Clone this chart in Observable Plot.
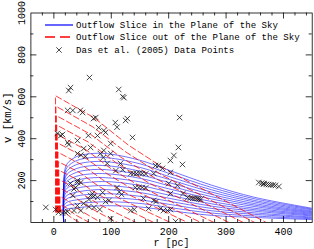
<!DOCTYPE html>
<html><head><meta charset="utf-8">
<script src="https://cdn.jsdelivr.net/npm/d3@7"></script>
<script src="https://cdn.jsdelivr.net/npm/@observablehq/plot@0.6"></script>
<style>
body{margin:0;background:#fff}
#wrap{position:relative;width:314px;height:249px;overflow:hidden}
.row{position:absolute;left:45px;height:12px;display:flex;align-items:center;font-family:"Liberation Mono";font-size:9.1px;color:#000;white-space:nowrap}
.row svg{display:block;margin-right:3px}
</style></head><body><div id="wrap"></div>
<script>
// Blue model curves: outflow slice in the plane of the sky
const blueR = [17, 18, 23, 40, 70, 100, 150, 200, 275, 350, 450];
const blueV = [
  [0, 55, 64, 70, 78, 80, 74, 57, 34, 24, 14],
  [0, 68, 81, 89, 97, 99, 91, 72, 45, 31, 18],
  [0, 82, 97, 108, 117, 118, 108, 87, 56, 39, 22],
  [0, 95, 114, 127, 136, 137, 125, 102, 67, 46, 26],
  [0, 109, 130, 145, 156, 156, 143, 116, 78, 54, 31],
  [0, 122, 147, 164, 175, 175, 160, 131, 89, 61, 35],
  [0, 136, 164, 183, 194, 194, 177, 146, 100, 68, 39],
  [0, 149, 180, 202, 214, 212, 194, 161, 112, 76, 43],
  [0, 163, 197, 221, 233, 231, 211, 176, 123, 83, 47],
  [0, 176, 213, 240, 253, 250, 228, 191, 134, 90, 51],
  [0, 190, 230, 258, 272, 269, 245, 206, 145, 98, 55],
  [0, 203, 247, 277, 291, 288, 263, 220, 156, 105, 60],
  [0, 217, 263, 296, 311, 307, 280, 235, 167, 113, 64],
  [0, 230, 280, 315, 330, 326, 297, 250, 178, 120, 68]
];
// Red model curves: outflow slice out of the plane of the sky
const redR = [
  [12, 12, 19, 24, 30, 38, 45],
  [11.3, 11.3, 22, 30, 39, 51, 62],
  [10.6, 10.6, 25, 36, 50, 67, 82],
  [9.9, 9.9, 29, 46, 65, 89, 111],
  [9.2, 9.2, 34, 56, 81, 114, 143],
  [8.5, 8.5, 39, 66, 98, 138, 174],
  [7.8, 7.8, 44, 76, 113, 160, 203],
  [7.1, 7.1, 48, 85, 128, 184, 233],
  [6.4, 6.4, 52, 93, 140, 202, 256],
  [5.7, 5.7, 56, 100, 152, 219, 279],
  [5, 5, 60, 109, 166, 240, 305],
  [4.3, 4.3, 64, 117, 179, 259, 330],
  [3.6, 3.6, 67, 124, 189, 274, 350],
  [2.9, 2.9, 70, 130, 200, 290, 370]
];
const redV = [
  [50, 60, 50, 37, 24, 11, 0],
  [50, 85, 70, 52, 34, 16, 0],
  [50, 125, 103, 76, 51, 24, 0],
  [50, 165, 136, 101, 67, 31, 0],
  [50, 205, 169, 125, 83, 39, 0],
  [50, 250, 207, 153, 101, 48, 0],
  [50, 290, 240, 177, 117, 55, 0],
  [50, 335, 277, 204, 136, 64, 0],
  [50, 380, 314, 232, 154, 72, 0],
  [50, 420, 347, 256, 170, 80, 0],
  [50, 465, 384, 284, 188, 88, 0],
  [50, 510, 421, 311, 207, 97, 0],
  [50, 555, 458, 339, 225, 105, 0],
  [50, 605, 500, 369, 245, 115, 0]
];
// Das et al. (2005) data points
const dasR = [26,29,62,113,120,122,128,107,73,219,24,33,46,50,69,78,87,90,76,60,6,12,15,24,26,41,99,110,125,137,
  87,64,52,41,47,55,81,99,93,116,86,108,120,29,41,38,67,64,69,76,33,52,41,47,35,3,8,15,20,24,-14,41,47,35,61,90,96,85,110,114,118,99,61,70,80,
  217,209,203,224,182,189,177,174,203,134,139,144,149,154,160,200,215,225,203,233,238,242,246,250,253,256,156,174,178,142,148,154,160,165,186,191,198,203,134,140,212,
  357,362,366,370,374,378,382,386,392,365];
const dasV = [630,644,692,635,601,596,496,477,501,501,535,535,535,525,496,453,439,430,415,415,425,415,420,382,372,391,377,455,487,406,
  344,358,353,329,322,316,329,329,282,282,310,248,252,186,191,167,138,129,124,120,129,91,81,57,57,62,48,45,48,52,72,200,191,160,110,100,105,143,167,146,134,18,76,72,62,
  358,320,296,277,272,258,272,234,239,234,234,234,236,234,232,186,177,138,138,119,117,115,115,115,113,110,115,105,100,167,167,167,165,67,67,57,57,62,57,62,5,
  191,188,184,182,181,180,179,177,172,186];
// Ticks and labels
const xMajor = [0, 100, 200, 300, 400];
const xMinor = [-20, 20, 40, 60, 80, 120, 140, 160, 180, 220, 240, 260, 280, 320, 340, 360, 380, 420, 440];
const yMajor = [200, 400, 600, 800];
const yMinor = [100, 300, 500, 700, 900];
const xLabels = [0, 100, 200, 300, 400];
const yLabels = [200, 400, 600, 800, 1000];
const legendLabels = ["Outflow Slice in the Plane of the Sky", "Outflow Slice out of the Plane of the Sky", "Das et al. (2005) Data Points"];

const blueData = blueV.flatMap((vs, k) => vs.map((v, i) => ({r: blueR[i], v, k})));
const redData = redV.flatMap((vs, k) => vs.map((v, i) => ({r: redR[k][i], v, k})));
const pts = dasR.map((r, i) => ({r, v: dasV[i]}));

const W = 314, H = 249, mL = 30.4, mR = 2.3, mT = 12.5, mB = 27;
const fW = W - mL - mR, fH = H - mT - mB;
const font = "Liberation Mono";

const chart = Plot.plot({
  width: W, height: H,
  marginLeft: mL, marginRight: mR, marginTop: mT, marginBottom: mB,
  x: {domain: [-40, 450], axis: null},
  y: {domain: [0, 1000], axis: null},
  style: {fontFamily: font, background: "white", overflow: "visible"},
  marks: [
    Plot.line(blueData, {x: "r", y: "v", z: "k", stroke: "#0000ff", strokeWidth: 0.7, strokeOpacity: 0.8, curve: "catmull-rom", clip: true}),
    Plot.line(redData, {x: "r", y: "v", z: "k", stroke: "#ff0000", strokeWidth: 0.9, strokeOpacity: 0.85, strokeDasharray: "6,3", curve: "linear", clip: true}),
    Plot.dot(pts, {x: "r", y: "v", symbol: "times", r: 2.6, stroke: "#1a1a1a", strokeWidth: 0.8, fill: "none", clip: true}),
    Plot.frame({stroke: "#000", strokeWidth: 0.8}),
    Plot.tickX(xMajor, {x: d => d, insetTop: fH - 6, stroke: "#000", strokeWidth: 0.8}),
    Plot.tickX(xMajor, {x: d => d, insetBottom: fH - 6, stroke: "#000", strokeWidth: 0.8}),
    Plot.tickX(xMinor, {x: d => d, insetTop: fH - 3, stroke: "#000", strokeWidth: 0.8}),
    Plot.tickX(xMinor, {x: d => d, insetBottom: fH - 3, stroke: "#000", strokeWidth: 0.8}),
    Plot.tickY(yMajor, {y: d => d, insetRight: fW - 6, stroke: "#000", strokeWidth: 0.8}),
    Plot.tickY(yMajor, {y: d => d, insetLeft: fW - 6, stroke: "#000", strokeWidth: 0.8}),
    Plot.tickY(yMinor, {y: d => d, insetRight: fW - 3, stroke: "#000", strokeWidth: 0.8}),
    Plot.tickY(yMinor, {y: d => d, insetLeft: fW - 3, stroke: "#000", strokeWidth: 0.8}),
    Plot.text(xLabels, {x: d => d, text: d => String(d), frameAnchor: "bottom", dy: 9.5, lineAnchor: "middle", fontSize: 10, fill: "#000"}),
    Plot.text(yLabels, {y: d => d, text: d => String(d), frameAnchor: "left", dx: -9, rotate: -90, lineAnchor: "middle", textAnchor: "middle", fontSize: 10, fill: "#000"}),
    Plot.text(["r [pc]"], {frameAnchor: "bottom", dy: 20.5, lineAnchor: "middle", fontSize: 10, fill: "#000"}),
    Plot.text(["v [km/s]"], {frameAnchor: "left", dx: -23.4, rotate: -90, lineAnchor: "middle", textAnchor: "middle", fontSize: 10.5, fill: "#000"})
  ]
});
const wrap = document.getElementById("wrap");
wrap.appendChild(chart);

const rowCenters = [25, 37.3, 50];
const samples = [
  '<line x1="0" y1="6" x2="28" y2="6" stroke="#0000ff" stroke-width="1.2"/>',
  '<line x1="0" y1="6" x2="28" y2="6" stroke="#ff0000" stroke-width="1.5" stroke-dasharray="10,5"/>',
  '<path d="M11.3,3.3L16.7,8.7M16.7,3.3L11.3,8.7" stroke="#1a1a1a" stroke-width="0.8" fill="none"/>'
];
legendLabels.forEach((label, i) => {
  const row = document.createElement("div");
  row.className = "row";
  row.style.top = (rowCenters[i] - 6) + "px";
  row.innerHTML = '<svg width="28" height="12">' + samples[i] + '</svg>';
  const span = document.createElement("span");
  span.textContent = label;
  row.appendChild(span);
  wrap.appendChild(row);
});
</script></body></html>
